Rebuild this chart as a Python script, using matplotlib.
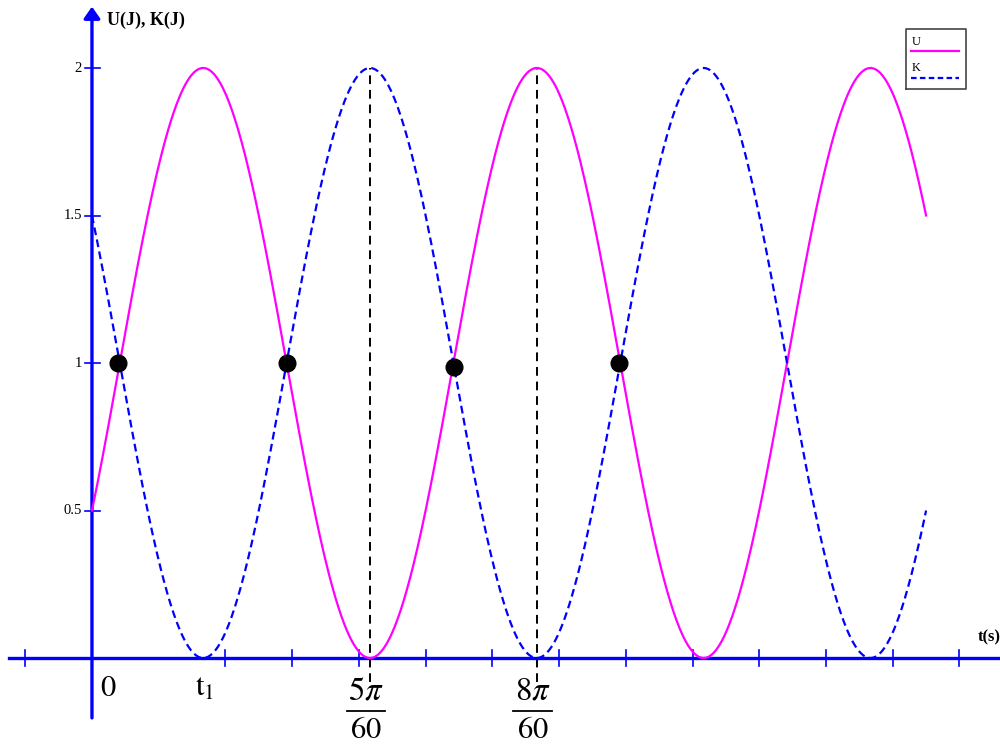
import numpy as np
import matplotlib.pyplot as plt

plt.rcParams['mathtext.fontset'] = 'stix'
SERIF = 'Liberation Serif'

# energy curves U(t) = mid + amp*cos(omega*(t - t_peak)), K = total - U
U_mid = 1.0
U_amp = 1.0
omega = 20.0              # rad/s, period pi/10
t_peak = 8 * np.pi / 60   # U reaches its max here
t_end = np.pi / 4
E_total = 2.0

# marked crossing points
dot_t = [0.0245, 0.1836, 0.3409, 0.4962]
dot_y = [1.0, 1.0, 0.985, 1.0]

# reference lines
vline_t = [5 * np.pi / 60, 8 * np.pi / 60]
vline_labels = [('5\\pi', '60'), ('8\\pi', '60')]

y_ticks = [0.5, 1, 1.5, 2]
y_tick_labels = ['0.5', '1', '1.5', '2']
x_tick_step = np.pi / 50

t = np.linspace(0, t_end, 800)
U = U_mid + U_amp * np.cos(omega * (t - t_peak))
K = E_total - U

fig = plt.figure(figsize=(10, 7.48), dpi=100)
ax = fig.add_axes([0, 0, 1, 1])
ax.set_xlim(-0.0866, 0.8550)
ax.set_ylim(-0.3050, 2.2305)
ax.axis('off')

blue = '#0000ff'
mag = '#ff00ff'

# axes
ax.plot([-0.078, 0.86], [0, 0], color=blue, lw=2.4, zorder=2)
ax.annotate('', xy=(0, 2.208), xytext=(0, -0.203),
            arrowprops=dict(arrowstyle='-|>,head_length=0.5,head_width=0.35',
                            color=blue, lw=2.4, shrinkA=0, shrinkB=0,
                            mutation_scale=14), zorder=2)

# x ticks
for k in range(-1, 14):
    if k == 1:
        continue
    ax.plot([k * x_tick_step] * 2, [-0.027, 0.027], color=blue, lw=1.2, zorder=2)
# y ticks
for yv, lab in zip(y_ticks, y_tick_labels):
    ax.plot([-0.0065, 0.0075], [yv, yv], color=blue, lw=1.2, zorder=2)
    ax.text(-0.0095, yv, lab, ha='right', va='center', fontsize=10.5,
            family=SERIF)

# curves
ax.plot(t, U, color=mag, lw=1.6, zorder=3)
ax.plot(t, K, color=blue, lw=1.6, ls=(0, (3.5, 2)), zorder=3)

# dashed verticals
for tv in vline_t:
    ax.plot([tv, tv], [-0.08, 2.0], color='black', lw=1.4,
            ls=(0, (4.5, 3)), zorder=1)

# dots
ax.plot(dot_t, dot_y, 'o', color='black', ms=12, zorder=4)

# axis titles
ax.text(0.0145, 2.16, 'U(J), K(J)', fontsize=13, fontweight='bold',
        family=SERIF, ha='left', va='center')
ax.text(0.834, 0.07, 't(s)', fontsize=12, fontweight='bold',
        family=SERIF, ha='left', va='center')

# bottom labels
ax.text(0.0150, -0.100, '$0$', fontsize=22, ha='center', va='center')
ax.text(0.1060, -0.100, '$\\mathrm{t}_1$', fontsize=22, ha='center',
        va='center')
for tv, (num, den) in zip(vline_t, vline_labels):
    c = tv - 0.004
    ax.text(c, -0.110, '$' + num + '$', fontsize=23.5, ha='center',
            va='center')
    ax.plot([c - 0.018, c + 0.018], [-0.179, -0.179], color='black',
            lw=1.3)
    ax.text(c, -0.272, '$' + den + '$', fontsize=22, ha='center',
            va='baseline')

# legend
lx0, lx1 = 0.7668, 0.8233
ly0, ly1 = 1.9288, 2.1322
ax.plot([lx0, lx1, lx1, lx0, lx0], [ly0, ly0, ly1, ly1, ly0],
        color='#444444', lw=1.2)
ax.text(0.7715, 2.087, 'U', fontsize=9, family=SERIF, va='center')
ax.plot([0.7715, 0.8166], [2.056, 2.056], color=mag, lw=1.6)
ax.text(0.7715, 2.0, 'K', fontsize=9, family=SERIF, va='center')
ax.plot([0.7715, 0.8166], [1.966, 1.966], color=blue, lw=1.6,
        ls=(0, (2.5, 1.5)))

fig.savefig('out.png', dpi=100)
